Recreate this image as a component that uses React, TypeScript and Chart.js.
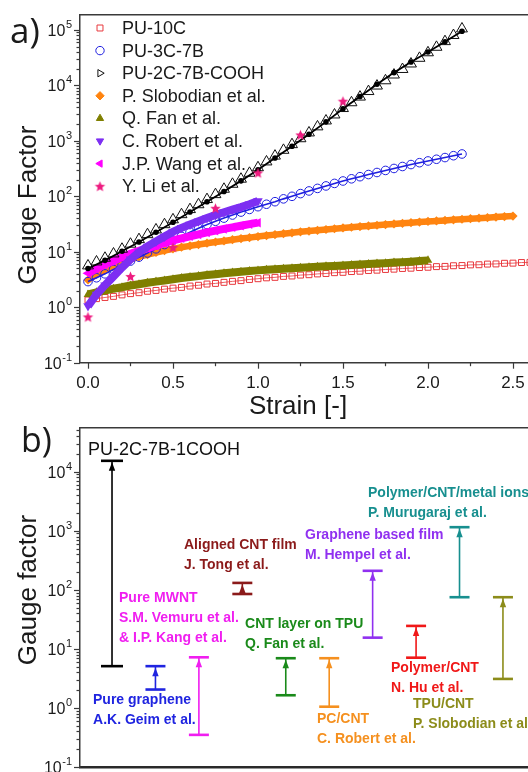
import React, { useEffect, useRef } from 'react';
import { Chart, registerables } from 'chart.js';
import { drawPoint } from 'chart.js/helpers';

Chart.register(...registerables);

const FONT = '"Liberation Sans", Arial, sans-serif';
const AXIS = '#3a3a3a';
const TEXT = '#1a1a1a';

// ---------- Panel a data ----------
const STRAIN = [0, 0.05, 0.1, 0.15, 0.2, 0.25, 0.3, 0.35, 0.4, 0.45, 0.5, 0.55, 0.6, 0.65, 0.7, 0.75, 0.8, 0.85, 0.9, 0.95,
  1.0, 1.05, 1.1, 1.15, 1.2, 1.25, 1.3, 1.35, 1.4, 1.45, 1.5, 1.55, 1.6, 1.65, 1.7, 1.75, 1.8, 1.85, 1.9, 1.95,
  2.0, 2.05, 2.1, 2.15, 2.2, 2.25, 2.3, 2.35, 2.4, 2.45, 2.5, 2.55, 2.6, 2.65];
const PU_10C = [1.35, 1.43, 1.5, 1.57, 1.67, 1.76, 1.83, 1.94, 2.01, 2.12, 2.21, 2.28, 2.41, 2.49, 2.62, 2.69, 2.81, 2.93, 3.02, 3.17,
  3.27, 3.39, 3.46, 3.6, 3.66, 3.8, 3.86, 3.99, 4.06, 4.2, 4.26, 4.4, 4.46, 4.6, 4.66, 4.8, 4.86, 5.0, 5.06, 5.2,
  5.26, 5.4, 5.45, 5.6, 5.65, 5.8, 5.84, 6.0, 6.04, 6.2, 6.24, 6.4, 6.44, 6.6];
const PU_3C_7B = [2.9, 3.4, 4.0, 4.8, 5.7, 6.8, 8.0, 9.5, 11.3, 13.5, 16.2, 19.0, 22.5, 26.5, 31.0, 35.5, 40.5, 46, 52, 58,
  65, 72, 80, 90, 100, 112, 125, 139, 154, 171, 189, 207, 226, 247, 269, 293, 318, 345, 374, 404,
  434, 466, 500, 540, 580];
const PU_2C_7B_COOH = [5.6, 6.6, 7.7, 9.2, 11.2, 13.8, 16.7, 20.5, 25, 31, 38, 47, 58, 71, 88, 108, 135, 166, 205, 262,
  330, 420, 535, 680, 860, 1100, 1400, 1800, 2300, 2950, 3850, 4900, 6200, 7800, 9800, 12200, 15500, 19500, 24500, 31000,
  39000, 49000, 62000, 80000, 105000];
const STRAIN_FIT = [0, 0.1, 0.2, 0.3, 0.4, 0.5, 0.6, 0.7, 0.8, 0.9, 1.0, 1.1, 1.2, 1.3, 1.4, 1.5, 1.6, 1.7, 1.8, 1.9, 2.0, 2.1, 2.2];
const PU_2C_7B_COOH_FIT = [5.0, 7.0, 10.2, 15, 22.5, 34, 52, 80, 122, 190, 300, 490, 800, 1320, 2200, 3800, 6300, 10500, 17000, 26500, 40000, 61000, 95000];
const SLOBODIAN = [3.1, 3.9, 4.7, 5.5, 6.4, 7.3, 8.1, 8.9, 9.7, 10.5, 11.3, 12.1, 12.8, 13.5, 14.3, 15.0, 15.7, 16.5, 17.3, 18.0,
  18.8, 19.6, 20.4, 21.2, 22.0, 22.9, 23.6, 24.4, 25.2, 26.0, 26.9, 27.7, 28.5, 29.3, 30.1, 31.0, 31.8, 32.6, 33.5, 34.3,
  35.2, 36.0, 36.8, 37.7, 38.6, 39.5, 40.4, 41.2, 42.2, 43.1, 44.0];
const FAN = [1.7, 1.86, 1.99, 2.16, 2.29, 2.46, 2.6, 2.76, 2.9, 3.04, 3.2, 3.36, 3.5, 3.64, 3.8, 3.94, 4.1, 4.24, 4.38, 4.5,
  4.62, 4.74, 4.86, 4.96, 5.06, 5.16, 5.26, 5.36, 5.46, 5.56, 5.68, 5.8, 5.9, 6.0, 6.12, 6.24, 6.38, 6.5, 6.64, 6.8, 7.0];
const ROBERT = [1.05, 1.7, 2.5, 3.6, 5.2, 7.3, 9.8, 12.5, 15.4, 18.9, 23.0, 27.0, 31.0, 35.5, 40.5, 46.0, 51.5, 57.5, 64.0, 72.0, 82.0];
const WANG = [4.1, 5.0, 5.9, 6.9, 8.0, 9.2, 10.4, 11.6, 12.9, 14.4, 16.0, 17.5, 19.0, 20.6, 22.3, 24.0, 25.8, 27.6, 29.5, 31.5, 33.5];
const STRAIN_LI = [0, 0.25, 0.5, 0.75, 1.0, 1.25, 1.5];
const LI = [0.67, 3.6, 12, 61, 265, 1280, 5200];
const X_TICKS_A = [0, 0.25, 0.5, 0.75, 1.0, 1.25, 1.5, 1.75, 2.0, 2.25, 2.5];

// ---------- Panel b data ----------
const REFS = ['PU-2C-7B-1COOH', 'Pure graphene', 'Pure MWNT', 'Aligned CNT film', 'CNT layer on TPU', 'PC/CNT',
  'Graphene based film', 'Polymer/CNT', 'Polymer/CNT/metal ions', 'TPU/CNT'];
const GF_MIN = [5.1, 2.05, 0.35, 85, 1.64, 1.05, 15.5, 7.1, 75, 3.1];
const GF_MAX = [15300, 5.1, 7.2, 131, 6.95, 6.95, 210, 24.5, 1150, 75];
const COLORS_B = ['#000000', '#1f24e0', '#f01ef0', '#8b1a1a', '#1a8a1a', '#f5901f', '#9030f0', '#f01818', '#178f8f', '#8c8c1a'];

const NOTES = [
  { lines: ['PU-2C-7B-1COOH'], color: '#111111', bold: false, x: -0.5525, y: 23600 },
  { lines: ['Aligned CNT film', 'J. Tong et al.'], color: '#8b1a1a', bold: true, x: 1.657, y: 580 },
  { lines: ['Graphene based film', 'M. Hempel et al.'], color: '#9030f0', bold: true, x: 4.443, y: 855 },
  { lines: ['Polymer/CNT/metal ions', 'P. Murugaraj et al.'], color: '#178f8f', bold: true, x: 5.893, y: 4400 },
  { lines: ['Pure MWNT', 'S.M. Vemuru et al.', '& I.P. Kang et al.'], color: '#f01ef0', bold: true, x: 0.161, y: 73 },
  { lines: ['CNT layer on TPU', 'Q. Fan et al.'], color: '#1a8a1a', bold: true, x: 3.062, y: 26.5 },
  { lines: ['Pure graphene', 'A.K. Geim et al.'], color: '#1f24e0', bold: true, x: -0.437, y: 1.37 },
  { lines: ['PC/CNT', 'C. Robert et al.'], color: '#f5901f', bold: true, x: 4.719, y: 0.652 },
  { lines: ['Polymer/CNT', 'N. Hu et al.'], color: '#f01818', bold: true, x: 6.423, y: 4.77 },
  { lines: ['TPU/CNT', 'P. Slobodian et al.'], color: '#8c8c1a', bold: true, x: 6.929, y: 1.17 },
];

function isPow10(v: number) { const l = Math.log10(v); return Math.abs(l - Math.round(l)) < 1e-6; }
function isLogStep(v: number) {
  const e = Math.floor(Math.log10(v) + 1e-9);
  const m = v / Math.pow(10, e);
  return Math.abs(m - Math.round(m)) < 1e-6;
}
function isHalf(v: number) { return Math.abs(v * 2 - Math.round(v * 2)) < 1e-9; }
const xy = (xs: number[], ys: number[]) => ys.map((y, i) => ({ x: xs[i], y }));

function makeStar(color: string, r: number) {
  const c = document.createElement('canvas');
  const s = Math.ceil(r * 2) + 2;
  c.width = s; c.height = s;
  const g = c.getContext('2d')!;
  g.fillStyle = color;
  g.beginPath();
  for (let k = 0; k < 10; k++) {
    const rr = k % 2 ? r * 0.45 : r;
    const a = -Math.PI / 2 + (k * Math.PI) / 5;
    const px = s / 2 + rr * Math.cos(a);
    const py = s / 2 + rr * Math.sin(a) + 0.5;
    if (k) g.lineTo(px, py); else g.moveTo(px, py);
  }
  g.closePath();
  g.fill();
  return c;
}

function drawLogAxis(ctx: CanvasRenderingContext2D, s: any) {
  ctx.strokeStyle = AXIS; ctx.lineWidth = 1.2;
  s.ticks.forEach((t: any) => {
    if (!isLogStep(t.value)) return;
    const major = isPow10(t.value);
    const len = major ? 6 : 3.5;
    const p = Math.round(s.getPixelForValue(t.value)) + 0.5;
    ctx.beginPath(); ctx.moveTo(s.right, p); ctx.lineTo(s.right - len, p); ctx.stroke();
    if (major) {
      const e = String(Math.round(Math.log10(t.value)));
      const xr = s.right - 8;
      ctx.fillStyle = TEXT; ctx.textAlign = 'right'; ctx.textBaseline = 'middle';
      ctx.font = `11px ${FONT}`;
      const ew = ctx.measureText(e).width;
      ctx.fillText(e, xr, p - 6);
      ctx.font = `16px ${FONT}`;
      ctx.fillText('10', xr - ew - 0.5, p + 1);
    }
  });
}

export default function App() {
  const refA = useRef<HTMLCanvasElement>(null);
  const refB = useRef<HTMLCanvasElement>(null);

  useEffect(() => {
    const RED = '#e8383d', BLUE = '#1f1fe0', ORANGE = '#ff8410', OLIVE = '#7f7f00', PURPLE = '#7d2ff2', MAGENTA = '#ff00ff', PINK = '#ee1c80';
    const star = makeStar(PINK, 5.5);
    const none = 'rgba(0,0,0,0)';

    const dsA: any[] = [
      { label: 'PU-10C', data: xy(STRAIN, PU_10C), showLine: true, borderColor: RED, borderWidth: 0.8, pointStyle: 'rect', pointRadius: 4.2, pointBorderWidth: 1, pointBorderColor: RED, pointBackgroundColor: none, order: 8 },
      { label: 'PU-3C-7B', data: xy(STRAIN, PU_3C_7B), showLine: true, borderColor: BLUE, borderWidth: 1.6, pointStyle: 'circle', pointRadius: 4.3, pointBorderWidth: 1, pointBorderColor: BLUE, pointBackgroundColor: none, order: 5 },
      { label: 'PU-2C-7B-COOH', data: xy(STRAIN, PU_2C_7B_COOH), showLine: false, pointStyle: 'triangle', pointRadius: 6.3, pointBorderWidth: 1, pointBorderColor: '#111', pointBackgroundColor: none, legendRotation: 90, order: 2 },
      { label: 'P. Slobodian et al.', data: xy(STRAIN, SLOBODIAN), showLine: true, borderColor: ORANGE, borderWidth: 6.5, pointStyle: 'rectRot', pointRadius: 4.6, pointBorderWidth: 0, pointBorderColor: ORANGE, pointBackgroundColor: ORANGE, order: 6 },
      { label: 'Q. Fan et al.', data: xy(STRAIN, FAN), showLine: true, borderColor: OLIVE, borderWidth: 8, pointStyle: 'triangle', pointRadius: 5, pointBorderWidth: 0, pointBorderColor: OLIVE, pointBackgroundColor: OLIVE, order: 7 },
      { label: 'C. Robert et al.', data: xy(STRAIN, ROBERT), showLine: true, borderColor: PURPLE, borderWidth: 8, pointStyle: 'triangle', pointRotation: 180, pointRadius: 5.5, pointBorderWidth: 0, pointBorderColor: PURPLE, pointBackgroundColor: PURPLE, order: 3 },
      { label: 'J.P. Wang et al.', data: xy(STRAIN, WANG), showLine: true, borderColor: MAGENTA, borderWidth: 8, pointStyle: 'triangle', pointRotation: 270, pointRadius: 5.5, pointBorderWidth: 0, pointBorderColor: MAGENTA, pointBackgroundColor: MAGENTA, order: 4 },
      { label: 'Y. Li et al.', data: xy(STRAIN_LI, LI), showLine: false, pointStyle: star, pointRadius: 5, pointBorderColor: PINK, pointBackgroundColor: PINK, order: 0 },
      { label: 'PU-2C-7B-COOH fit', noLegend: true, data: xy(STRAIN_FIT, PU_2C_7B_COOH_FIT), showLine: true, borderColor: '#000', borderWidth: 1.8, pointStyle: 'circle', pointRadius: 2.8, pointBorderWidth: 0, pointBackgroundColor: '#000', order: 1 },
    ].map((d) => ({ ...d, xAxisID: 'x', yAxisID: 'y' }));

    const decorA = {
      id: 'decorA',
      afterDraw(chart: any) {
        const { ctx, scales } = chart;
        ctx.save();
        drawLogAxis(ctx, scales.y);
        const x = scales.x;
        ctx.strokeStyle = AXIS; ctx.lineWidth = 1.2;
        x.ticks.forEach((t: any) => {
          const len = isHalf(t.value) ? 6 : 3.5;
          const p = Math.round(x.getPixelForValue(t.value)) + 0.5;
          ctx.beginPath(); ctx.moveTo(p, x.top); ctx.lineTo(p, x.top + len); ctx.stroke();
        });
        ctx.fillStyle = TEXT;
        ctx.font = `26px ${FONT}`; ctx.textAlign = 'center'; ctx.textBaseline = 'middle';
        ctx.fillText('Strain [-]', 298, 407);
        ctx.save(); ctx.translate(29, 205); ctx.rotate(-Math.PI / 2); ctx.fillText('Gauge Factor', 0, 0); ctx.restore();
        ctx.font = `35px "Open Sans", ${FONT}`; ctx.textAlign = 'left'; ctx.textBaseline = 'alphabetic';
        ctx.fillText('a)', 10, 43);
        // legend
        const items = chart.data.datasets.filter((d: any) => !d.noLegend);
        items.forEach((d: any, i: number) => {
          const cy = 28 + i * 22.6;
          ctx.fillStyle = d.pointBackgroundColor; ctx.strokeStyle = d.pointBorderColor; ctx.lineWidth = 1;
          drawPoint(ctx, { pointStyle: d.pointStyle, rotation: d.legendRotation ?? d.pointRotation ?? 0, radius: 4.2, borderWidth: 1 } as any, 100, cy);
          ctx.fillStyle = TEXT; ctx.font = `18px ${FONT}`; ctx.textAlign = 'left'; ctx.textBaseline = 'middle';
          ctx.fillText(d.label, 122, cy + 1);
        });
        ctx.restore();
      },
    };

    const chartA = new Chart(refA.current!, {
      type: 'line',
      data: { datasets: dsA },
      options: {
        responsive: false, animation: false, events: [],
        layout: { autoPadding: false, padding: { left: 0, right: 12, top: 0, bottom: 0 } },
        plugins: { legend: { display: false }, tooltip: { enabled: false } },
        scales: {
          x: {
            type: 'linear', min: -0.047, max: 2.706,
            grid: { display: false, drawTicks: true, tickLength: 6 },
            border: { display: true, color: AXIS, width: 1.5 },
            ticks: { autoSkip: false, maxRotation: 0, padding: 4, color: TEXT, font: { size: 17, family: FONT }, callback: (v: any) => (isHalf(Number(v)) ? Number(v).toFixed(1) : '') },
            afterBuildTicks: (s: any) => { s.ticks = X_TICKS_A.map((v) => ({ value: v })); },
            afterFit: (s: any) => { s.height = 59.3; },
          },
          x2: {
            type: 'linear', position: 'top', min: -0.047, max: 2.706,
            grid: { display: false, drawTicks: false },
            border: { display: true, color: AXIS, width: 1.5 },
            ticks: { display: false },
            afterFit: (s: any) => { s.height = 15; },
          },
          y: {
            type: 'logarithmic', min: 0.1, max: 186000,
            grid: { display: false, drawTicks: false },
            border: { display: true, color: AXIS, width: 1.5 },
            ticks: { display: false, autoSkip: false },
            afterFit: (s: any) => { s.width = 80; },
          },
        },
      } as any,
      plugins: [decorA],
    });

    const dsB: any[] = REFS.map((name, i) => ({
      label: name,
      data: [{ x: i, y: GF_MAX[i] }, { x: i, y: GF_MIN[i] }],
      showLine: true, borderColor: COLORS_B[i], borderWidth: 1.6,
      pointStyle: 'line', pointRadius: i === 0 ? 11 : 10, pointBorderWidth: 2.6,
      pointBorderColor: COLORS_B[i], pointBackgroundColor: COLORS_B[i],
      xAxisID: 'x', yAxisID: 'y',
    }));

    const decorB = {
      id: 'decorB',
      afterDatasetsDraw(chart: any) {
        const { ctx } = chart;
        ctx.save();
        chart.data.datasets.forEach((d: any, i: number) => {
          const top = chart.getDatasetMeta(i).data[0];
          ctx.fillStyle = d.borderColor;
          ctx.beginPath();
          ctx.moveTo(top.x, top.y + 1.5);
          ctx.lineTo(top.x - 3.2, top.y + 10);
          ctx.lineTo(top.x + 3.2, top.y + 10);
          ctx.closePath(); ctx.fill();
        });
        ctx.restore();
      },
      afterDraw(chart: any) {
        const { ctx, scales } = chart;
        ctx.save();
        drawLogAxis(ctx, scales.y);
        ctx.fillStyle = TEXT;
        ctx.font = `26px ${FONT}`; ctx.textAlign = 'center'; ctx.textBaseline = 'middle';
        ctx.save(); ctx.translate(29, 168); ctx.rotate(-Math.PI / 2); ctx.fillText('Gauge factor', 0, 0); ctx.restore();
        ctx.font = `34px "Open Sans", ${FONT}`; ctx.textAlign = 'left'; ctx.textBaseline = 'alphabetic';
        ctx.fillText('b)', 21, 30);
        ctx.textBaseline = 'middle';
        NOTES.forEach((n) => {
          const px = scales.x.getPixelForValue(n.x);
          const py = scales.y.getPixelForValue(n.y);
          ctx.fillStyle = n.color;
          ctx.font = n.bold ? `bold 14px ${FONT}` : `18px ${FONT}`;
          n.lines.forEach((line, k) => ctx.fillText(line, px, py + k * 20));
        });
        ctx.restore();
      },
    };

    const chartB = new Chart(refB.current!, {
      type: 'line',
      data: { datasets: dsB },
      options: {
        responsive: false, animation: false, events: [],
        layout: { autoPadding: false, padding: { left: 0, right: 12, top: 0, bottom: 0 } },
        plugins: { legend: { display: false }, tooltip: { enabled: false } },
        scales: {
          x: {
            type: 'linear', min: -0.737, max: 10.037,
            grid: { display: false, drawTicks: false },
            border: { display: true, color: '#2a2a2a', width: 2.4 },
            ticks: { display: false },
            afterFit: (s: any) => { s.height = 5; },
          },
          x2: {
            type: 'linear', position: 'top', min: -0.737, max: 10.037,
            grid: { display: false, drawTicks: false },
            border: { display: true, color: AXIS, width: 1.5 },
            ticks: { display: false },
            afterFit: (s: any) => { s.height = 6; },
          },
          y: {
            type: 'logarithmic', min: 0.1, max: 55000,
            grid: { display: false, drawTicks: false },
            border: { display: true, color: AXIS, width: 1.5 },
            ticks: { display: false, autoSkip: false },
            afterFit: (s: any) => { s.width = 80; },
          },
        },
      } as any,
      plugins: [decorB],
    });

    return () => { chartA.destroy(); chartB.destroy(); };
  }, []);

  return (
    <div style={{ position: 'fixed', left: 0, top: 0, width: 528, height: 772, overflow: 'hidden', background: '#fff' }}>
      <canvas ref={refA} width={560} height={422} style={{ position: 'absolute', left: 0, top: 0 }} />
      <canvas ref={refB} width={560} height={350} style={{ position: 'absolute', left: 0, top: 422 }} />
    </div>
  );
}
